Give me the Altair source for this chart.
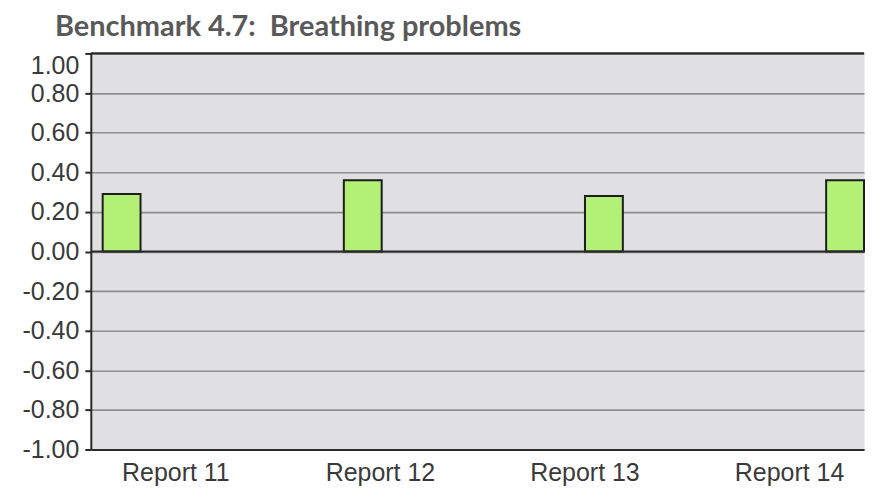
import altair as alt
import pandas as pd

categories = ["Report 11", "Report 12", "Report 13", "Report 14"]
values = [0.29, 0.36, 0.28, 0.36]
y_ticks = [-1.0, -0.8, -0.6, -0.4, -0.2, 0.0, 0.2, 0.4, 0.6, 0.8, 1.0]
zero_level = [0.0]
top_level = [1.0]

df = pd.DataFrame({"report": categories, "value": values})
zero_df = pd.DataFrame({"level": zero_level})
top_df = pd.DataFrame({"level": top_level})

W = 775
H = 397
LABEL_FONT = "Liberation Sans"
TEXT_COLOR = "#3a3a3a"

yscale = alt.Scale(domain=[-1, 1], nice=False, zero=False)

bars = alt.Chart(df).mark_bar(
    color="#b3f076", stroke="#1e1e1e", strokeWidth=2
).encode(
    x=alt.X(
        "report:N",
        sort=categories,
        axis=None,
        scale=alt.Scale(paddingInner=0.843, paddingOuter=0.0246, align=1),
    ),
    y=alt.Y(
        "value:Q",
        scale=yscale,
        axis=alt.Axis(
            values=y_ticks,
            tickCount=len(y_ticks),
            labelExpr="(datum.value < -0.0001 ? '-' : '') + format(abs(datum.value), '.2f')",
            labelBaseline={"condition": {"test": "datum.value > 0.99", "value": "top"}, "value": "middle"},
            labelOverlap=False,
            title=None,
            grid=True,
            gridColor="#8e8e8e",
            gridWidth=1.6,
            domain=True,
            domainColor="#2a2a2a",
            domainWidth=2,
            ticks=True,
            tickSize=6,
            tickColor="#2a2a2a",
            tickWidth=2,
            labelPadding=6,
            labelFont=LABEL_FONT,
            labelFontSize=25,
            labelColor=TEXT_COLOR,
            minExtent=78,
            maxExtent=78,
        ),
    ),
)

labels = alt.Chart(df).mark_point(opacity=0).encode(
    x=alt.X(
        "report:N",
        sort=categories,
        scale=alt.Scale(type="point", padding=0.39, align=0.53),
        axis=alt.Axis(
            orient="bottom",
            title=None,
            labelAngle=0,
            ticks=False,
            domain=True,
            domainColor="#2a2a2a",
            domainWidth=2,
            grid=False,
            labelPadding=11,
            labelFont=LABEL_FONT,
            labelFontSize=25,
            labelColor=TEXT_COLOR,
        ),
    ),
)

zero_rule = alt.Chart(zero_df).mark_rule(color="#2a2a2a", strokeWidth=2.2).encode(
    y=alt.Y("level:Q", scale=yscale)
)
top_rule = alt.Chart(top_df).mark_rule(color="#2a2a2a", strokeWidth=2.2).encode(
    y=alt.Y("level:Q", scale=yscale)
)

chart = (
    alt.layer(bars, zero_rule, top_rule, labels)
    .resolve_scale(x="independent")
    .properties(
        width=W,
        height=H,
        padding={"left": 5, "top": 4, "right": 0, "bottom": 0},
        title=alt.TitleParams(
            "Benchmark 4.7:\u00a0 Breathing problems",
            anchor="start",
            frame="bounds",
            font="Lato",
            fontWeight="bold",
            fontSize=29,
            color="#595959",
            offset=10,
            dx=42,
        ),
    )
    .configure_view(fill="#e0dfe2", stroke="transparent")
)

chart.save("out.html", embed_options={"renderer": "svg", "actions": False})
